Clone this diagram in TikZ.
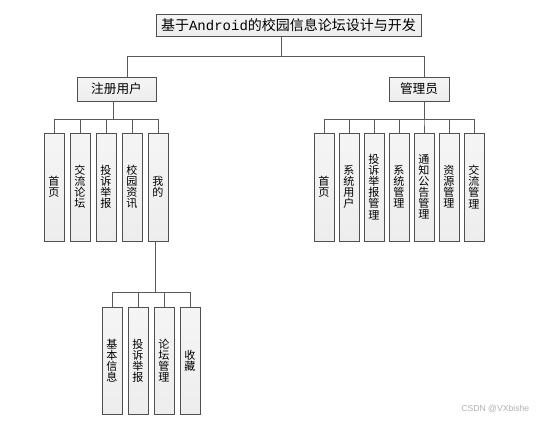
\documentclass[tikz,border=0pt]{standalone}
\usepackage{fontspec}
\setmainfont{Liberation Sans}
\newfontfamily\cjk{Noto Sans CJK SC}
\newfontfamily\monofnt{Liberation Mono}
\usetikzlibrary{shadows,calc}
\definecolor{edgecol}{HTML}{5A5A5A}
\definecolor{bordercol}{HTML}{505050}
\tikzset{
  box/.style={draw=bordercol, line width=0.75pt, top color=black!4, bottom color=black!7,
    drop shadow={shadow xshift=1pt, shadow yshift=-1pt, fill=black!25, opacity=0.5},
    inner sep=0pt, align=center, font=\cjk},
  titlebox/.style={box, minimum width=265*0.75pt, minimum height=22*0.75pt, font=\cjk\fontsize{10.5}{12}\selectfont},
  midbox/.style={box, minimum height=24*0.75pt, font=\cjk\fontsize{9.5}{11}\selectfont},
  leaf/.style={box, minimum width=20*0.75pt, minimum height=108*0.75pt, font=\cjk\fontsize{8.3}{8.3}\selectfont},
  conn/.style={draw=edgecol, line width=0.75pt},
}
\begin{document}
\begin{tikzpicture}[x=0.75pt,y=-0.75pt]
\useasboundingbox[fill=white] (0,0) rectangle (538,422);

% buses
\coordinate (b1) at (0,56);
\coordinate (b2) at (0,119);
\coordinate (b3) at (0,292);

\node[titlebox] (title) at (288.5,25) {基于{\monofnt Android}的校园信息论坛设计与开发};

\node[midbox, minimum width=79*0.75pt] (reg) at (116.5,89) {注册用户};
\node[midbox, minimum width=60*0.75pt] (adm) at (419,89) {管理员};

% registered user leaves
\node[leaf] (r1) at (54,187) {首\\页};
\node[leaf] (r2) at (80,187) {交\\流\\论\\坛};
\node[leaf] (r3) at (106,187) {投\\诉\\举\\报};
\node[leaf] (r4) at (132,187) {校\\园\\资\\讯};
\node[leaf] (r5) at (158,187) {我\\的};

% admin leaves
\node[leaf] (a1) at (324,187) {首\\页};
\node[leaf] (a2) at (349,187) {系\\统\\用\\户};
\node[leaf] (a3) at (374,187) {投\\诉\\举\\报\\管\\理};
\node[leaf] (a4) at (399,187) {系\\统\\管\\理};
\node[leaf] (a5) at (424,187) {通\\知\\公\\告\\管\\理};
\node[leaf] (a6) at (449,187) {资\\源\\管\\理};
\node[leaf] (a7) at (474,187) {交\\流\\管\\理};

% my leaves
\node[leaf, minimum height=107*0.75pt] (m1) at (112,360.5) {基\\本\\信\\息};
\node[leaf, minimum height=107*0.75pt] (m2) at (138,360.5) {投\\诉\\举\\报};
\node[leaf, minimum height=107*0.75pt] (m3) at (164,360.5) {论\\坛\\管\\理};
\node[leaf, minimum height=107*0.75pt] (m4) at (190,360.5) {收\\藏};

% connectors level 1
\coordinate (t0) at ($(title.south)+(-7.5,0)$);
\draw[conn] (t0) -- (t0 |- b1) -| ($(reg.north)+(10.5,0)$);
\draw[conn] (t0) -- (t0 |- b1) -| ($(adm.north)+(5,0)$);

% connectors level 2 (registered)
\coordinate (p1) at ($(reg.south)+(-3.5,0)$);
\foreach \c in {r1,r2,r3,r4,r5}{
  \draw[conn] (p1) -- (p1 |- b2) -| (\c.north);
}
% connectors level 2 (admin)
\coordinate (p2) at ($(adm.south)+(5,0)$);
\foreach \c in {a1,a2,a3,a4,a5,a6,a7}{
  \draw[conn] (p2) -- (p2 |- b2) -| (\c.north);
}
% connectors level 3 (my)
\coordinate (p3) at ($(r5.south)+(-3,0)$);
\foreach \c in {m1,m2,m3,m4}{
  \draw[conn] (p3) -- (p3 |- b3) -| (\c.north);
}

\node[font=\fontsize{6.5}{7}\selectfont, text=black!30, anchor=east] (wm) at (534,409) {CSDN @VXbishe};
\end{tikzpicture}
\end{document}
